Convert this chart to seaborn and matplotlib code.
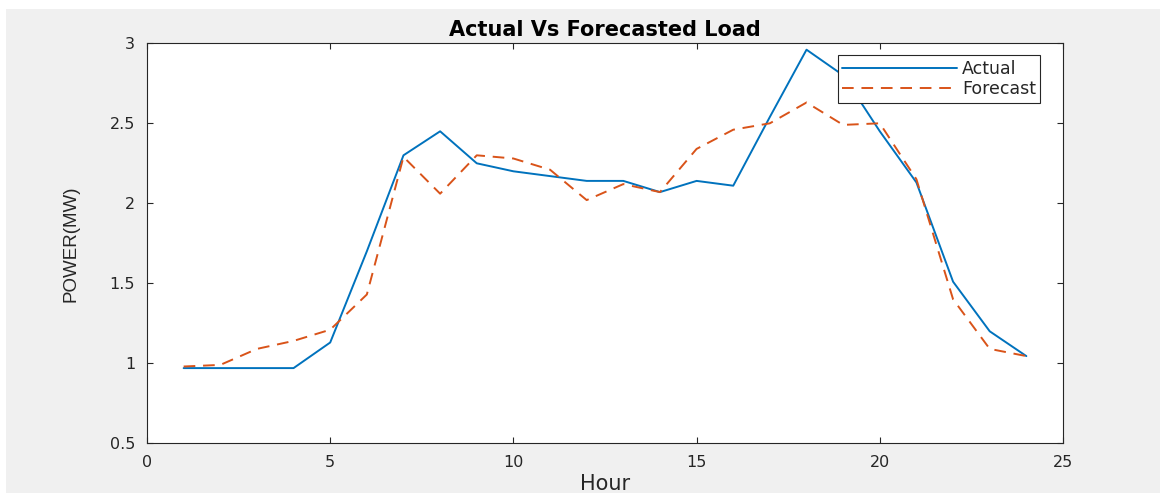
import matplotlib
matplotlib.use("Agg")
import matplotlib.pyplot as plt
from matplotlib.patches import Rectangle
import seaborn as sns
import pandas as pd

hours = list(range(1, 25))
actual = [0.97, 0.97, 0.97, 0.97, 1.13, 1.70, 2.30, 2.45, 2.25, 2.20, 2.17, 2.14,
          2.14, 2.07, 2.14, 2.11, 2.54, 2.96, 2.80, 2.45, 2.13, 1.51, 1.20, 1.045]
forecast = [0.98, 0.99, 1.09, 1.14, 1.21, 1.43, 2.29, 2.06, 2.30, 2.28, 2.21, 2.02,
            2.12, 2.07, 2.34, 2.46, 2.50, 2.63, 2.49, 2.50, 2.15, 1.40, 1.09, 1.045]
xticks = [0, 5, 10, 15, 20, 25]
yticks = [0.5, 1, 1.5, 2, 2.5, 3]
ytick_labels = ["0.5", "1", "1.5", "2", "2.5", "3"]

df = pd.DataFrame({"Hour": hours, "Actual": actual, "Forecast": forecast})

sns.set_style("ticks")
plt.rcParams['font.family'] = ['DejaVu Sans']

W, H = 1160, 493
fig = plt.figure(figsize=(W / 100, H / 100), dpi=100, facecolor="#f0f0f0")
# white margins of the screenshot
fig.patches.append(Rectangle((0, 1 - 9 / H), 1, 9 / H, transform=fig.transFigure,
                             facecolor="white", edgecolor="none", zorder=0))
fig.patches.append(Rectangle((0, 0), 6 / W, 1, transform=fig.transFigure,
                             facecolor="white", edgecolor="none", zorder=0))

ax = fig.add_axes([147 / W, 1 - 443.3 / H, (1063 - 147) / W, (443.3 - 43.3) / H])
ax.set_facecolor("white")

sns.lineplot(data=df, x="Hour", y="Actual", ax=ax, color="#0072BD", lw=1.4, label="Actual")
sns.lineplot(data=df, x="Hour", y="Forecast", ax=ax, color="#D95319", lw=1.4,
             label="Forecast", linestyle=(0, (6, 4)))

ax.set_xlim(0, 25)
ax.set_ylim(0.5, 3)
ax.set_xticks(xticks)
ax.set_xticklabels([str(t) for t in xticks])
ax.set_yticks(yticks)
ax.set_yticklabels(ytick_labels)
ax.tick_params(direction="in", length=4, width=0.8, colors="#262626", labelsize=11.5,
               top=True, right=True, labelcolor="#262626")
ax.tick_params(axis="x", pad=8.5)
ax.tick_params(axis="y", pad=8.5)
for s in ax.spines.values():
    s.set_color("#262626")
    s.set_linewidth(0.8)
    s.set_visible(True)

ax.set_title("Actual Vs Forecasted Load", fontsize=15, fontweight="bold", color="black", pad=5)
ax.set_xlabel("Hour", fontsize=15, color="#262626", labelpad=2.5)
ax.set_ylabel("POWER(MW)", fontsize=13.5, color="#262626", labelpad=22,
              family=["Liberation Sans", "DejaVu Sans"])

leg = ax.legend(loc="upper right", bbox_to_anchor=(0.975, 0.97), fontsize=12.5,
                frameon=True, fancybox=False, edgecolor="#262626", framealpha=1,
                handlelength=6.6, borderpad=0.25, labelspacing=0.15, handletextpad=0.3,
                borderaxespad=0)
leg.get_frame().set_linewidth(0.8)

fig.savefig("out.png", dpi=100, facecolor=fig.get_facecolor())
